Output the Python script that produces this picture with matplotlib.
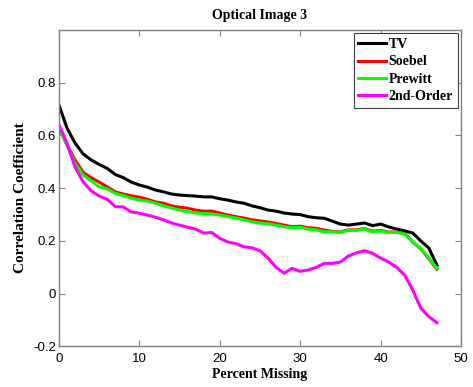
import matplotlib
matplotlib.use("Agg")
import matplotlib.pyplot as plt

# Percent of pixels missing
percent_missing = list(range(0, 48))

tv = [0.715, 0.628, 0.571, 0.530, 0.507, 0.490, 0.475, 0.452, 0.440, 0.423,
      0.412, 0.404, 0.393, 0.386, 0.378, 0.374, 0.372, 0.370, 0.367, 0.367,
      0.360, 0.355, 0.348, 0.343, 0.333, 0.326, 0.317, 0.313, 0.306, 0.302,
      0.300, 0.292, 0.288, 0.286, 0.275, 0.264, 0.260, 0.264, 0.268, 0.258,
      0.264, 0.253, 0.245, 0.238, 0.230, 0.200, 0.173, 0.108]

soebel = [0.635, 0.564, 0.507, 0.460, 0.440, 0.423, 0.405, 0.386, 0.378, 0.371,
          0.366, 0.358, 0.348, 0.343, 0.333, 0.328, 0.324, 0.317, 0.313, 0.313,
          0.306, 0.298, 0.292, 0.287, 0.280, 0.276, 0.272, 0.266, 0.260, 0.254,
          0.256, 0.250, 0.248, 0.241, 0.236, 0.234, 0.242, 0.242, 0.247, 0.237,
          0.240, 0.234, 0.234, 0.228, 0.196, 0.170, 0.132, 0.093]

prewitt = [0.630, 0.560, 0.495, 0.450, 0.428, 0.405, 0.397, 0.380, 0.372, 0.362,
           0.355, 0.351, 0.343, 0.333, 0.325, 0.317, 0.311, 0.306, 0.304, 0.302,
           0.298, 0.292, 0.287, 0.280, 0.272, 0.268, 0.265, 0.260, 0.254, 0.250,
           0.252, 0.245, 0.242, 0.235, 0.234, 0.232, 0.240, 0.240, 0.245, 0.235,
           0.238, 0.232, 0.232, 0.226, 0.196, 0.172, 0.135, 0.096]

second_order = [0.640, 0.570, 0.480, 0.424, 0.390, 0.370, 0.358, 0.330, 0.329, 0.310,
                0.305, 0.298, 0.290, 0.280, 0.268, 0.260, 0.252, 0.245, 0.230, 0.232,
                0.210, 0.196, 0.190, 0.178, 0.174, 0.163, 0.135, 0.100, 0.078, 0.096,
                0.085, 0.090, 0.100, 0.115, 0.115, 0.120, 0.143, 0.155, 0.163, 0.153,
                0.135, 0.120, 0.100, 0.070, 0.014, -0.055, -0.087, -0.110]

series_names = ["TV", "Soebel", "Prewitt", "2nd-Order"]
series_colors = ["black", "#ff0000", "#00ff00", "#ff00ff"]

x_ticks = [0, 10, 20, 30, 40, 50]
y_ticks = [-0.2, 0, 0.2, 0.4, 0.6, 0.8]
y_tick_labels = ["-0.2", "0", "0.2", "0.4", "0.6", "0.8"]

serif_bold = dict(family="Liberation Serif", weight="bold", size=10)
grey = "#808080"

fig = plt.figure(figsize=(4.73, 3.87), dpi=100)
ax = fig.add_axes([0.1247, 0.1047, 0.85, 0.818])

for values, name, color in zip([tv, soebel, prewitt, second_order],
                               series_names, series_colors):
    ax.plot(percent_missing, values, color=color, linewidth=2.2, label=name)

ax.set_xlim(0, 50)
ax.set_ylim(-0.2, 1.0)
ax.set_xticks(x_ticks)
ax.set_yticks(y_ticks)
ax.set_yticklabels(y_tick_labels)

for spine in ax.spines.values():
    spine.set_color(grey)
    spine.set_linewidth(1.0)
ax.tick_params(direction="in", length=4, width=0.8, color=grey,
               top=True, right=True, labelsize=9.5, pad=2)
ax.tick_params(axis="x", pad=5)
for lbl in ax.get_xticklabels() + ax.get_yticklabels():
    lbl.set_family("Liberation Sans")

ax.set_title("Optical Image 3", fontdict=serif_bold, pad=8)
ax.set_xlabel("Percent Missing", fontdict=serif_bold, labelpad=2)
ax.set_ylabel("Correlation Coefficient", fontdict=dict(serif_bold, size=11))
ax.yaxis.set_label_coords(-0.08, 0.47)

leg = ax.legend(loc="upper right", prop=dict(family="Liberation Serif", weight="bold", size=10),
                handlelength=2.0, handletextpad=0.15, borderpad=0.35, labelspacing=0.3,
                borderaxespad=0.25, fancybox=False, framealpha=1)
leg.get_frame().set_edgecolor("#404040")
leg.get_frame().set_linewidth(0.8)

fig.savefig("out.png", dpi=100)
